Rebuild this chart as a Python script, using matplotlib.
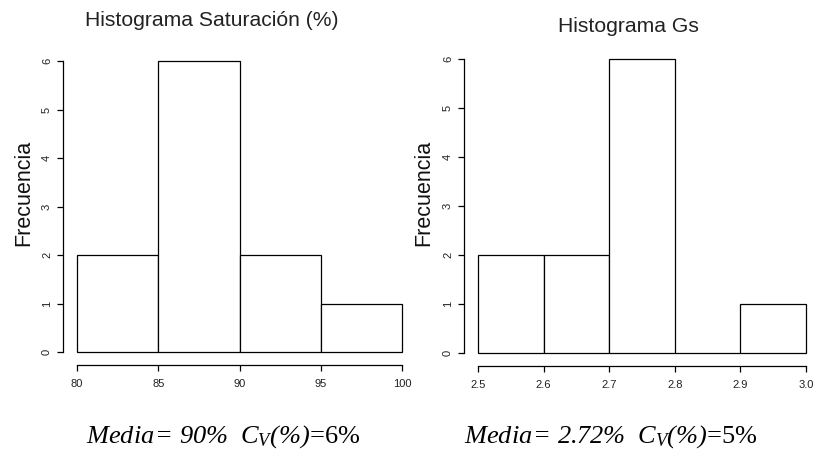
import matplotlib
matplotlib.use("Agg")
import matplotlib.pyplot as plt

plt.rcParams['mathtext.fontset'] = 'custom'
plt.rcParams['mathtext.rm'] = 'Liberation Serif:italic'
plt.rcParams['mathtext.it'] = 'Liberation Serif:italic'

sat_edges = [80, 85, 90, 95, 100]
sat_counts = [2, 6, 2, 1]
gs_edges = [2.5, 2.6, 2.7, 2.8, 2.9, 3.0]
gs_counts = [2, 2, 6, 0, 1]
yticks = [0, 1, 2, 3, 4, 5, 6]
sat_xticks = [80, 85, 90, 95, 100]
gs_xticks = [2.5, 2.6, 2.7, 2.8, 2.9, 3.0]
sat_xlabels = ["80", "85", "90", "95", "100"]
gs_xlabels = ["2.5", "2.6", "2.7", "2.8", "2.9", "3.0"]

W, H = 813, 453
fig = plt.figure(figsize=(W / 100, H / 100), dpi=100)

def px_axes(l, r, b, t):
    return fig.add_axes([l / W, 1 - b / H, (r - l) / W, (b - t) / H])

def draw_hist(ax, edges, counts, xticks, xlabels):
    widths = [edges[i + 1] - edges[i] for i in range(len(counts))]
    bars = ax.bar(edges[:-1], counts, width=widths, align='edge', facecolor='white',
                  edgecolor='black', linewidth=0.9)
    for b in bars:
        b.set_clip_on(False)
    ax.set_xlim(edges[0], edges[-1])
    ax.set_ylim(0, 6)
    for s in ['top', 'right']:
        ax.spines[s].set_visible(False)
    ax.spines['left'].set_position(('outward', 10))
    ax.spines['bottom'].set_position(('outward', 9.4))
    ax.spines['left'].set_bounds(0, 6)
    ax.spines['bottom'].set_bounds(edges[0], edges[-1])
    ax.spines['left'].set_linewidth(0.9)
    ax.spines['bottom'].set_linewidth(0.9)
    ax.set_yticks(yticks)
    ax.set_yticklabels([str(v) for v in yticks], rotation=90, va='center',
                       fontsize=8, color='#222222')
    ax.set_xticks(xticks)
    ax.set_xticklabels(xlabels, fontsize=8, color='#222222')
    ax.tick_params(axis='both', length=4, width=0.9)
    ax.tick_params(axis='y', pad=4)
    ax.tick_params(axis='x', pad=6)
    ax.set_ylabel("Frecuencia", fontsize=15.5, color='#111111')

plt.rcParams['font.family'] = ['Liberation Sans', 'DejaVu Sans']

ax1 = px_axes(77, 402, 352, 61)
draw_hist(ax1, sat_edges, sat_counts, sat_xticks, sat_xlabels)
ax1.yaxis.set_label_coords(-0.132, 0.545)
ax2 = px_axes(478, 806, 353, 59)
draw_hist(ax2, gs_edges, gs_counts, gs_xticks, gs_xlabels)
ax2.yaxis.set_label_coords(-0.132, 0.545)

fig.text(212 / W, 1 - 20 / H, "Histograma Saturación (%)", ha='center', va='center',
         fontsize=15.2, color='#222222')
fig.text(628 / W, 1 - 26 / H, "Histograma Gs", ha='center', va='center',
         fontsize=15.2, color='#222222')

fig.text(223 / W, 1 - 437 / H,
         r"$Media\!=\,90\%\ \ C_{V}(\%)$=6%",
         ha='center', va='center', fontsize=19, family='Liberation Serif')
fig.text(611 / W, 1 - 437 / H,
         r"$Media\!=\,2.72\%\ \ C_{V}(\%)$=5%",
         ha='center', va='center', fontsize=19, family='Liberation Serif')

fig.savefig("out.png", dpi=100)
